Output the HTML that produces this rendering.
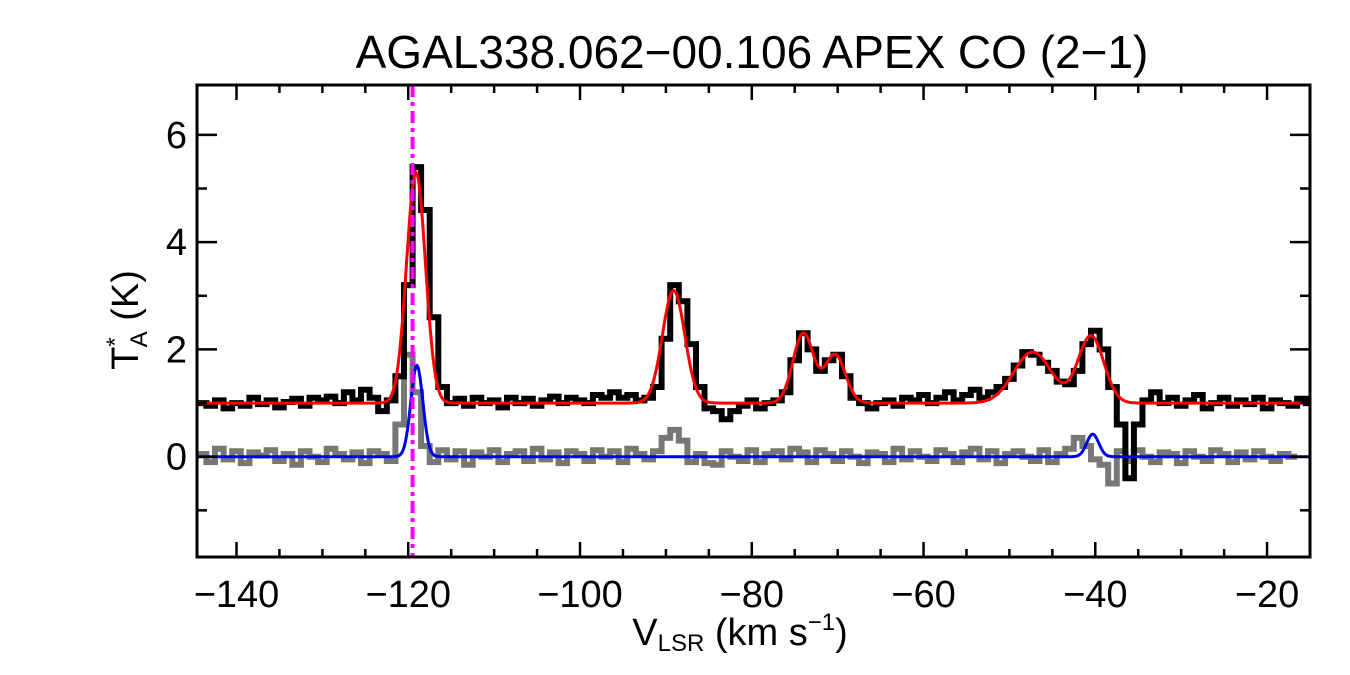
<!DOCTYPE html>
<html><head><meta charset="utf-8"><style>
body{margin:0;background:#fff;}
svg{display:block;font-family:"Liberation Sans",sans-serif;}
</style></head><body>
<svg id="chart" width="1350" height="675" xmlns="http://www.w3.org/2000/svg">
<text x="752" y="68" font-size="46" text-anchor="middle">AGAL338.062−00.106  APEX CO (2−1)</text>
<g id="plot"></g>
<g id="axes"></g>
<text x="740" y="645" font-size="38" text-anchor="middle">V<tspan font-size="24" dy="6">LSR</tspan><tspan dy="-6"> (km s</tspan><tspan font-size="24" dy="-15">−1</tspan><tspan dy="15">)</tspan></text>
<text transform="translate(138,320) rotate(-90)" font-size="38" text-anchor="middle">T<tspan font-size="24" dy="-15">*</tspan><tspan font-size="24" dx="-10" dy="24">A</tspan><tspan dy="-9"> (K)</tspan></text>
</svg>
<script>
const velStart = -144;
const observed = [1.0,0.95,1.05,0.9,1.0,0.95,1.1,0.98,1.05,0.92,1.02,1.08,0.95,1.1,1.05,1.12,1.0,1.2,1.05,1.25,1.1,0.85,1.05,1.5,3.2,5.4,4.6,2.6,1.3,1.0,1.08,0.95,1.1,1.0,1.05,0.92,1.1,1.0,1.08,0.95,1.05,1.12,1.0,1.1,1.05,1.0,1.15,1.1,1.2,1.1,1.15,1.05,1.1,1.3,2.2,3.2,2.9,2.1,1.3,0.9,0.85,0.7,0.85,0.95,1.05,0.9,1.0,1.05,1.2,1.8,2.3,2.0,1.6,1.8,1.9,1.5,1.1,1.0,0.9,1.0,1.05,0.95,1.1,1.05,1.15,1.0,1.1,1.2,1.05,1.15,1.25,1.1,1.2,1.3,1.45,1.7,1.95,1.9,1.75,1.6,1.4,1.35,1.6,2.1,2.35,2.0,1.3,0.6,-0.4,0.6,1.05,1.2,1.0,1.1,0.95,1.05,1.15,0.9,1.0,1.1,0.95,1.05,0.98,1.1,0.9,1.05,1.0,0.95,1.08,1.0];
const residual = [0.05,-0.1,0.15,-0.05,0.1,-0.12,0.08,0.02,0.12,-0.08,0.05,-0.15,0.1,0.0,-0.1,0.15,0.05,-0.05,0.08,-0.12,0.1,0.05,-0.08,0.6,1.9,1.2,0.2,-0.1,0.12,-0.05,0.1,-0.15,0.08,0.0,0.12,-0.1,0.05,0.1,-0.08,0.15,-0.05,0.08,-0.12,0.1,0.05,-0.08,0.12,0.0,0.1,-0.1,0.15,0.05,-0.05,0.1,0.35,0.5,0.3,-0.1,0.05,-0.12,-0.15,0.1,0.0,-0.08,0.12,-0.1,0.05,0.1,-0.05,0.15,0.08,-0.1,0.12,0.05,-0.08,0.1,0.0,-0.12,0.08,0.05,-0.1,0.15,-0.05,0.1,0.0,-0.08,0.12,0.05,-0.1,0.08,0.15,-0.05,0.1,-0.12,0.05,0.1,0.0,-0.08,0.12,-0.1,0.05,0.15,0.35,0.2,-0.05,-0.15,-0.5,0.1,-0.08,0.12,0.0,-0.1,0.08,0.05,-0.12,0.1,0.0,-0.08,0.12,0.05,-0.1,0.08,-0.05,0.1,0.0,-0.08,0.05,0.0];
const fitCenters = [-119.1,-89.1,-74.0,-70.3,-47.3,-40.5];
const fitAmps = [4.3,2.1,1.3,0.9,0.95,1.25];
const fitSigmas = [1.1,1.3,1.2,1.2,2.2,1.5];
const fitBase = 1.0;
const resCenters = [-119.0,-40.3];
const resAmps = [1.7,0.42];
const resSigmas = [0.7,0.7];
const markerVel = -119.5;
const xTicks = [-140,-120,-100,-80,-60,-40,-20];
const yTicks = [0,2,4,6];

const L=197,R=1310,T=85,B=557;
const xmin=-144.6, xmax=-15.0, ymin=-1.87, ymax=6.93;
const X=v=>L+(v-xmin)/(xmax-xmin)*(R-L);
const Y=t=>B-(t-ymin)/(ymax-ymin)*(B-T);
const NS="http://www.w3.org/2000/svg";
const plot=document.getElementById('plot'), axes=document.getElementById('axes');
function mk(tag,attrs,parent){const e=document.createElementNS(NS,tag);for(const k in attrs)e.setAttribute(k,attrs[k]);parent.appendChild(e);return e;}
function stepPath(arr){let d='';arr.forEach((t,i)=>{const v=velStart+i;const x0=X(Math.max(v-0.5,xmin)),x1=X(Math.min(v+0.5,xmax));d+=(i?'L':'M')+x0.toFixed(1)+','+Y(t).toFixed(1)+'L'+x1.toFixed(1)+','+Y(t).toFixed(1);});return d;}
function gaussPath(c,a,s,base){let d='';for(let v=xmin;v<=xmax;v+=0.1){let t=base;for(let k=0;k<c.length;k++)t+=a[k]*Math.exp(-0.5*((v-c[k])/s[k])**2);d+=(d?'L':'M')+X(v).toFixed(1)+','+Y(t).toFixed(1);}return d;}
const g1=mk('path',{d:stepPath(residual),fill:'none',stroke:'#777',"stroke-width":6},plot);


const g2=mk('path',{d:stepPath(observed),fill:'none',stroke:'#000',"stroke-width":6},plot);


const g3=mk('path',{d:gaussPath(fitCenters,fitAmps,fitSigmas,fitBase),fill:'none',stroke:'#f00',"stroke-width":3},plot);


const g4=mk('path',{d:gaussPath(resCenters,resAmps,resSigmas,0),fill:'none',stroke:'#0000ee',"stroke-width":3},plot);


const m=mk('line',{x1:X(markerVel),x2:X(markerVel),y1:T,y2:B,stroke:'#f0f',"stroke-width":4,"stroke-dasharray":"12,5,4,5"},plot);


const fr=mk('rect',{x:L,y:T,width:R-L,height:B-T,fill:'none',stroke:'#000',"stroke-width":3},axes);


for(let v=-140;v<=-15;v+=5){const major=(v%20===0);const len=major?15:8;
 mk('line',{x1:X(v),x2:X(v),y1:B,y2:B-len,stroke:'#000',"stroke-width":2.5},axes);
 mk('line',{x1:X(v),x2:X(v),y1:T,y2:T+len,stroke:'#000',"stroke-width":2.5},axes);}
xTicks.forEach(v=>{const t=mk('text',{x:X(v),y:B+50,"font-size":38,"text-anchor":"middle"},axes);t.textContent=(v<0?'−':'')+Math.abs(v);
 
 });
for(let t=-1;t<=6;t++){const major=(t%2===0);const len=major?20:10;
 mk('line',{x1:L,x2:L+len,y1:Y(t),y2:Y(t),stroke:'#000',"stroke-width":2.5},axes);
 mk('line',{x1:R,x2:R-len,y1:Y(t),y2:Y(t),stroke:'#000',"stroke-width":2.5},axes);}
yTicks.forEach(t=>{const e=mk('text',{x:L-10,y:Y(t)+13,"font-size":38,"text-anchor":"end"},axes);e.textContent=String(t);
 
 });
</script>
</body></html>
